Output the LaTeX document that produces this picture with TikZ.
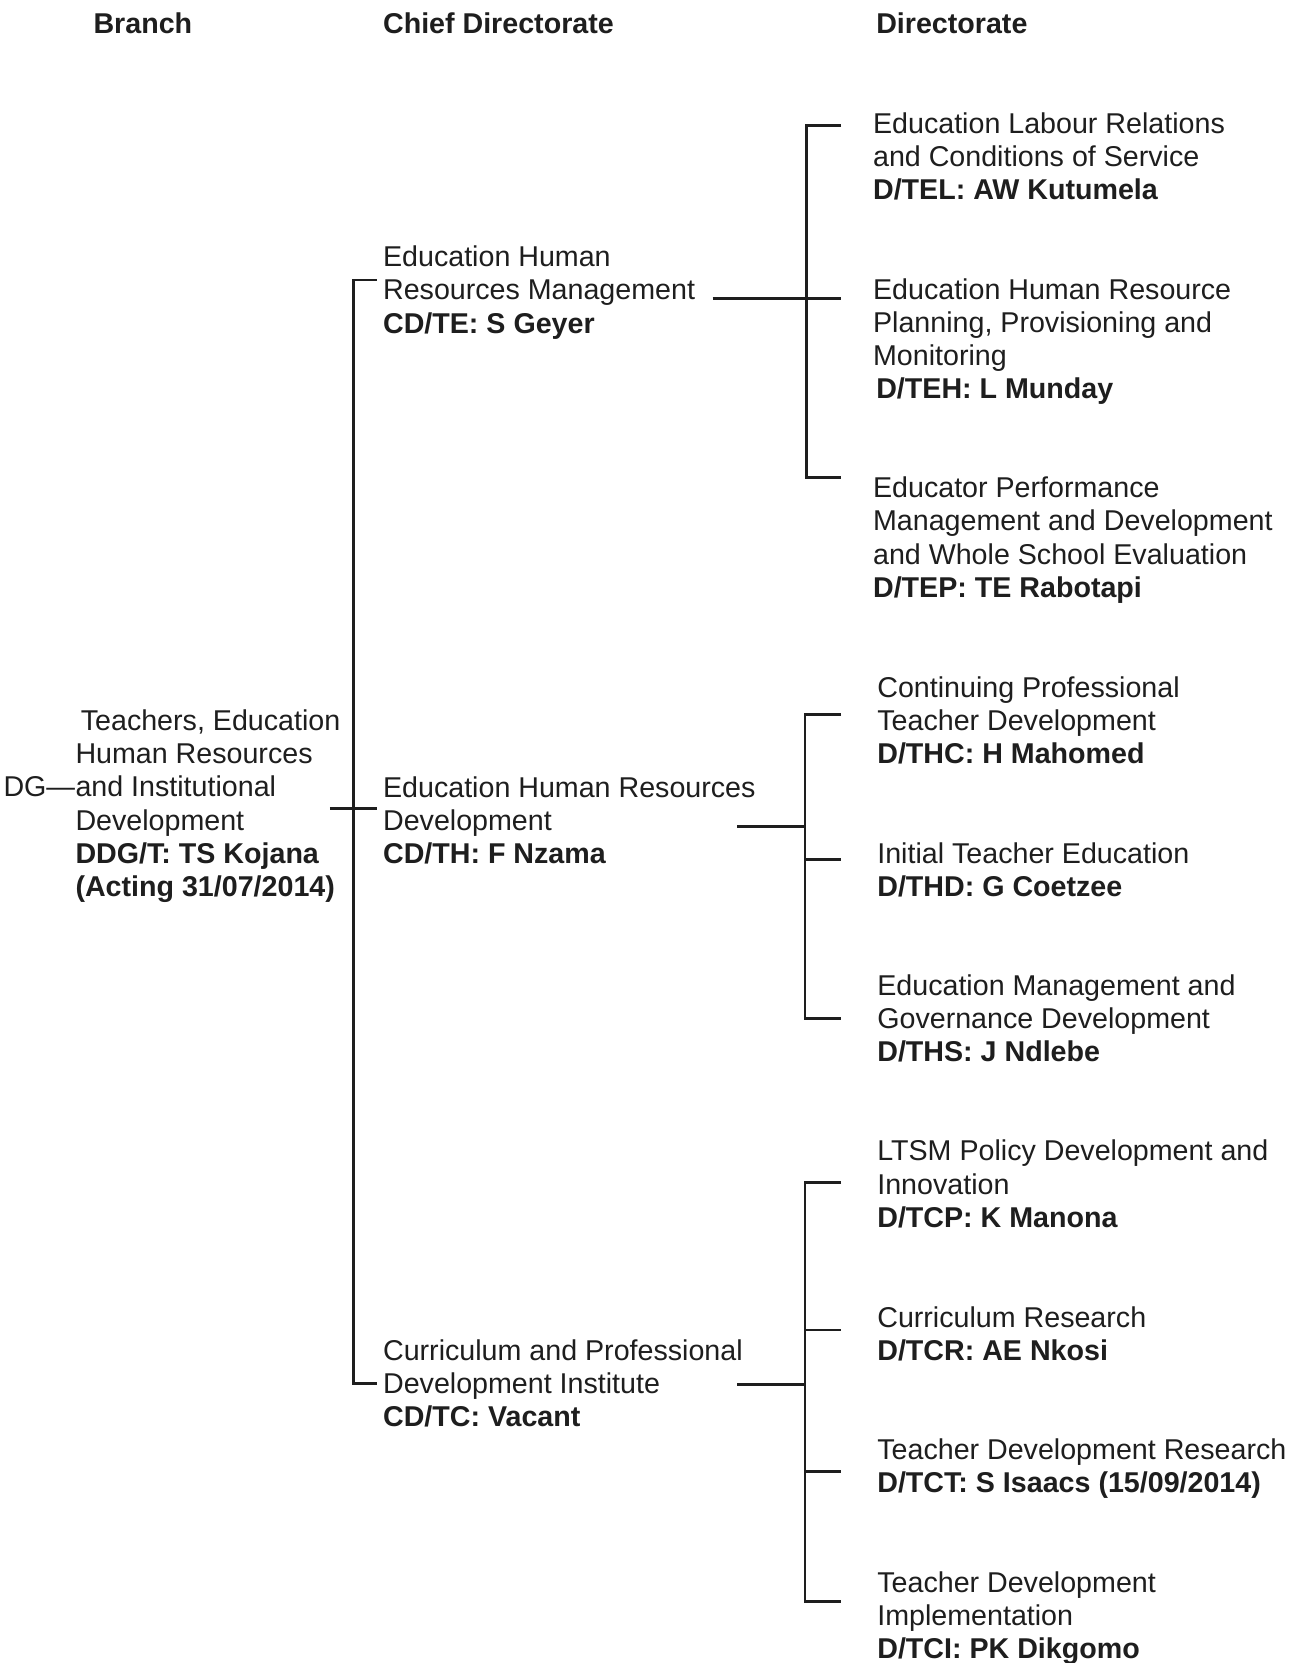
\documentclass[tikz,border=0pt]{standalone}
\usepackage{fontspec}
\setmainfont{Liberation Sans}
\definecolor{ink}{HTML}{1E1E1E}
\begin{document}
\begin{tikzpicture}[x=1pt,y=-1pt,
  txt/.style={anchor=base west,align=left,inner sep=0pt,font=\fontsize{27}{31.2}\selectfont,text=ink},
  hdr/.style={txt,font=\fontsize{27}{31.2}\selectfont\bfseries},
  ln/.style={line width=2.8pt,draw=ink}]
\useasboundingbox[fill=white] (0,0) rectangle (1230,1568);
% headers
\node[hdr] (hb) at (88,32) {Branch};
\node[hdr] (hc) at (361,32) {Chief Directorate};
\node[hdr] (hd) at (826,32) {Directorate};
% branch (anchor = baseline of last line)
\node[txt] (br) at (71,845) {\hspace{5pt}Teachers, Education\\Human Resources\\and Institutional\\Development\\\textbf{DDG/T: TS Kojana}\\\textbf{(Acting 31/07/2014)}};
\node[txt,anchor=base east] (dg) at (71,751.4) {DG—};
% chief directorates
\node[txt] (cd1) at (361,314) {Education Human\\Resources Management\\\textbf{CD/TE: S Geyer}};
\node[txt] (cd2) at (361,814) {Education Human Resources\\Development\\\textbf{CD/TH: F Nzama}};
\node[txt] (cd3) at (361,1345) {Curriculum and Professional\\Development Institute\\\textbf{CD/TC: Vacant}};
% directorates
\node[txt] (d1) at (823,188) {Education Labour Relations\\and Conditions of Service\\\textbf{D/TEL: AW Kutumela}};
\node[txt] (d2) at (823,376) {Education Human Resource\\Planning, Provisioning and\\Monitoring\\\hspace{3pt}\textbf{D/TEH: L Munday}};
\node[txt] (d3) at (823,563) {Educator Performance\\Management and Development\\and Whole School Evaluation\\\textbf{D/TEP: TE Rabotapi}};
\node[txt] (d4) at (827,720) {Continuing Professional\\Teacher Development\\\textbf{D/THC: H Mahomed}};
\node[txt] (d5) at (827,845) {Initial Teacher Education\\\textbf{D/THD: G Coetzee}};
\node[txt] (d6) at (827,1001) {Education Management and\\Governance Development\\\textbf{D/THS: J Ndlebe}};
\node[txt] (d7) at (827,1157) {LTSM Policy Development and\\Innovation\\\textbf{D/TCP: K Manona}};
\node[txt] (d8) at (827,1283) {Curriculum Research\\\textbf{D/TCR: AE Nkosi}};
\node[txt] (d9) at (827,1407) {Teacher Development Research\\\textbf{D/TCT: S Isaacs (15/09/2014)}};
\node[txt] (d10) at (827,1564) {Teacher Development\\Implementation\\\textbf{D/TCI: PK Dikgomo}};
% main bracket
\coordinate (mt) at (355,264);
\coordinate (mtc) at (333,264);
\coordinate (mbc) at (333,1304);
\coordinate (mb) at (355,1304);
\coordinate (bl) at (311,762);
\coordinate (bm) at (355,762);
\draw[ln] (mt) -- (mtc) -- (mbc) -- (mb);
\draw[ln] (bl) -- (bm);
% bracket 1
\coordinate (c1) at (672,281);
\coordinate (t1a) at (793,118);
\coordinate (v1a) at (760,118);
\coordinate (v1b) at (760,450);
\coordinate (t1b) at (793,450);
\coordinate (t1m) at (793,281);
\draw[ln] (t1a) -- (v1a) -- (v1b) -- (t1b);
\draw[ln] (c1) -- (t1m);
% bracket 2
\coordinate (c2) at (695,779);
\coordinate (v2m) at (759,779);
\coordinate (t2a) at (793,674);
\coordinate (v2a) at (759,674);
\coordinate (v2b) at (759,960);
\coordinate (t2b) at (793,960);
\coordinate (v2c) at (759,810);
\coordinate (t2c) at (793,810);
\draw[ln] (t2a) -- (v2a) -- (v2b) -- (t2b);
\draw[ln] (c2) -- (v2m);
\draw[ln] (v2c) -- (t2c);
% bracket 3
\coordinate (c3) at (695,1305);
\coordinate (v3m) at (759,1305);
\coordinate (t3a) at (793,1115);
\coordinate (v3a) at (759,1115);
\coordinate (v3b) at (759,1510);
\coordinate (t3b) at (793,1510);
\coordinate (v3c) at (759,1254);
\coordinate (t3c) at (793,1254);
\coordinate (v3d) at (759,1387);
\coordinate (t3d) at (793,1387);
\draw[ln] (t3a) -- (v3a) -- (v3b) -- (t3b);
\draw[ln] (c3) -- (v3m);
\draw[ln] (v3c) -- (t3c);
\draw[ln] (v3d) -- (t3d);
\end{tikzpicture}
\end{document}
